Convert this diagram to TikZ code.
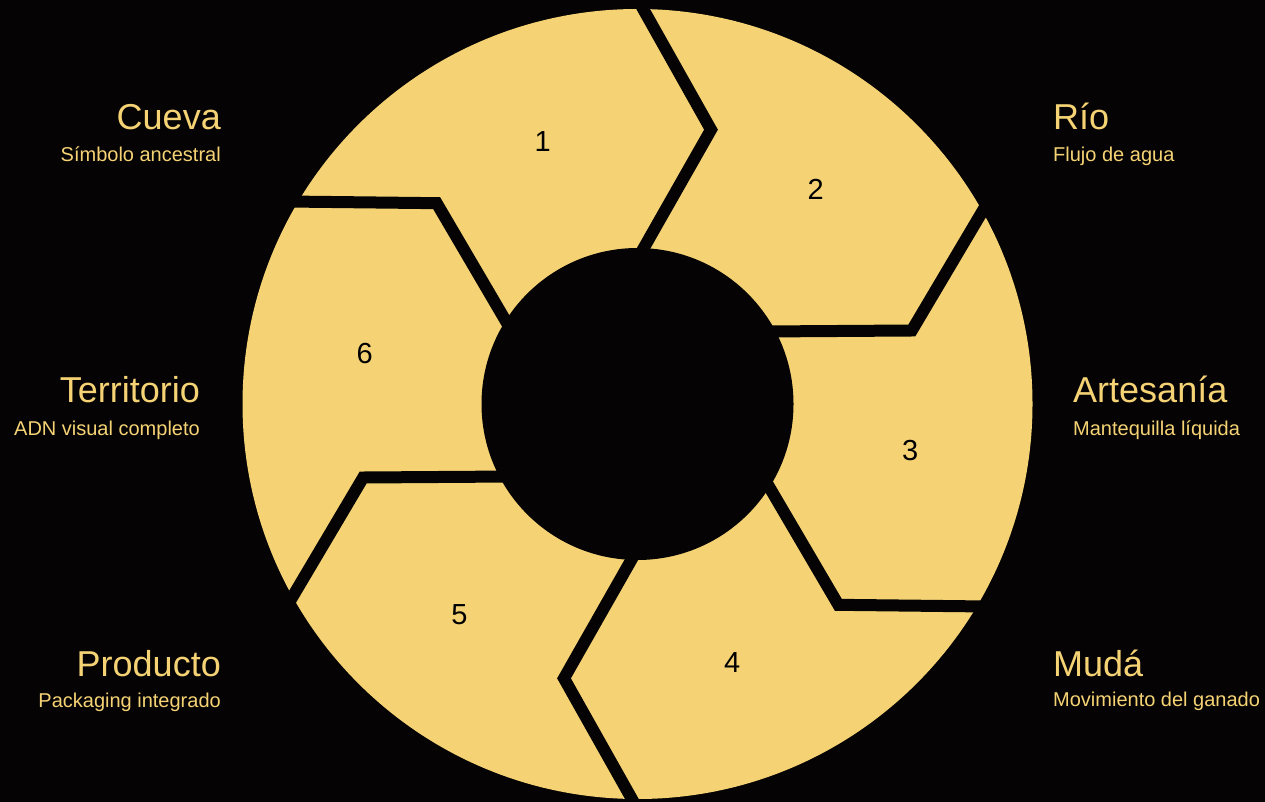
\documentclass[tikz,border=0pt]{standalone}
\usepackage{fontspec}
\setmainfont{Liberation Sans}
\definecolor{bgc}{RGB}{5,3,3}
\definecolor{ylw}{RGB}{245,211,117}
\begin{document}
\begin{tikzpicture}[x=1pt,y=1pt,
  titlelbl/.style={text=ylw,font=\fontsize{36}{38}\selectfont,inner sep=0pt},
  sublbl/.style={text=ylw,font=\fontsize{20}{22}\selectfont,inner sep=0pt},
  numlbl/.style={text=black,font=\fontsize{29}{31}\selectfont,inner sep=0pt},
  gapline/.style={draw=bgc,line width=12pt,miter limit=10,line join=miter}]
\fill[bgc] (0,-802) rectangle (1265,0);
\useasboundingbox (0,-802) rectangle (1265,0);
\begin{scope}[shift={(637.5,-404)}]
  \fill[ylw] (0,0) circle[radius=395];
  \foreach \a in {90,30,-30,-90,-150,150}{
    \draw[gapline] (\a:405) -- (\a-15:284) -- (\a:145);
  }
  \fill[bgc] (0,0) circle[radius=156];
  \foreach \n/\a in {1/110,2/50,3/-10,4/-70,5/-130,6/170}{
    \node[numlbl] (n\n) at ([yshift=2pt]\a:277) {\n};
  }
\end{scope}
% left labels
\node[titlelbl,anchor=base east] (t1) at (221,-130) {Cueva};
\node[sublbl,anchor=base east] (s1) at (221,-162) {Símbolo ancestral};
\node[titlelbl,anchor=base east] (t6) at (200,-402) {Territorio};
\node[sublbl,anchor=base east] (s6) at (200,-435) {ADN visual completo};
\node[titlelbl,anchor=base east] (t5) at (221,-676) {Producto};
\node[sublbl,anchor=base east] (s5) at (221,-707) {Packaging integrado};
% right labels
\node[titlelbl,anchor=base west] (t2) at (1053,-130) {Río};
\node[sublbl,anchor=base west] (s2) at (1053,-162) {Flujo de agua};
\node[titlelbl,anchor=base west] (t3) at (1073,-402) {Artesanía};
\node[sublbl,anchor=base west] (s3) at (1073,-435) {Mantequilla líquida};
\node[titlelbl,anchor=base west] (t4) at (1053,-676) {Mudá};
\node[sublbl,anchor=base west] (s4) at (1053,-706) {Movimiento del ganado};
\end{tikzpicture}
\end{document}
